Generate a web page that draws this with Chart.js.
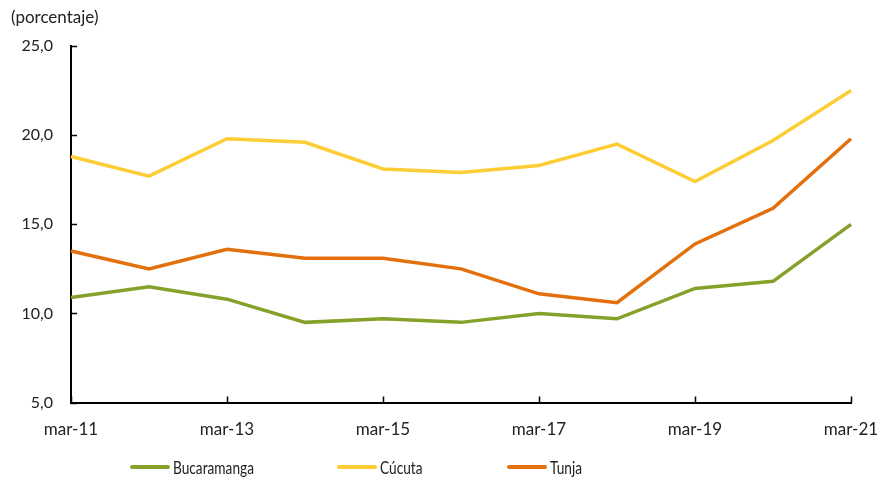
<!DOCTYPE html>
<html>
<head>
<meta charset="utf-8">
<script src="https://cdn.jsdelivr.net/npm/chart.js@4"></script>
<style>
  html, body { margin: 0; padding: 0; background: #fff; }
  #wrap { width: 883px; height: 479px; position: relative; }
  #title { position: absolute; left: 11px; top: 6px; font-family: Lato, 'Open Sans', sans-serif;
    font-size: 17px; color: #222; }
  .legend-item { position: absolute; top: 458px; height: 18px; display: flex; align-items: center;
    font-family: Lato, 'Open Sans', sans-serif; font-size: 18px; color: #222; white-space: nowrap; }
  .legend-item span.swatch { display: inline-block; width: 40px; height: 4px; border-radius: 2px; margin-right: 3px; }
  .legend-item span.txt { display: inline-block; transform: scaleX(0.76); transform-origin: left center; }
</style>
</head>
<body>
<div id="wrap">
  <canvas id="line-chart"></canvas>
  <div id="title">(porcentaje)</div>
  <div id="legend"></div>
</div>
<script>
// Datos (porcentaje)
const labels = ["mar-11", "mar-12", "mar-13", "mar-14", "mar-15", "mar-16", "mar-17", "mar-18", "mar-19", "mar-20", "mar-21"];
const bucaramanga = [10.9, 11.5, 10.8, 9.5, 9.7, 9.5, 10.0, 9.7, 11.4, 11.8, 15.0];
const cucuta = [18.8, 17.7, 19.8, 19.6, 18.1, 17.9, 18.3, 19.5, 17.4, 19.7, 22.5];
const tunja = [13.5, 12.5, 13.6, 13.1, 13.1, 12.5, 11.1, 10.6, 13.9, 15.9, 19.8];
const yTicks = [5, 10, 15, 20, 25];

const fontFamily = "Lato, 'Open Sans', sans-serif";

// small inward tick marks, like the original
const innerTicks = {
  id: "innerTicks",
  afterDraw(chart) {
    const ctx = chart.ctx;
    const x = chart.scales.x;
    const y = chart.scales.y;
    ctx.save();
    ctx.strokeStyle = "#000";
    ctx.lineWidth = 1.5;
    ctx.beginPath();
    yTicks.forEach((v) => {
      const py = Math.round(y.getPixelForValue(v)) + 0.5;
      ctx.moveTo(x.left, py);
      ctx.lineTo(x.left + 6, py);
    });
    labels.forEach((l, i) => {
      if (i % 2 === 0) {
        const px = Math.round(x.getPixelForValue(i)) + 0.5;
        ctx.moveTo(px, y.bottom);
        ctx.lineTo(px, y.bottom - 6);
      }
    });
    ctx.stroke();
    ctx.restore();
  }
};

const ctx = document.getElementById("line-chart").getContext("2d");

const chart = new Chart(ctx, {
  type: "line",
  data: {
    labels: labels,
    datasets: [
      { label: "Bucaramanga", data: bucaramanga, borderColor: "#86a12a", backgroundColor: "#86a12a" },
      { label: "Cúcuta", data: cucuta, borderColor: "#fdcd36", backgroundColor: "#fdcd36" },
      { label: "Tunja", data: tunja, borderColor: "#e3700d", backgroundColor: "#e3700d" }
    ]
  },
  options: {
    responsive: true,
    maintainAspectRatio: false,
    animation: false,
    elements: {
      line: { borderWidth: 3.5, tension: 0 },
      point: { radius: 0 }
    },
    layout: { padding: { left: 0, right: 0, top: 46, bottom: 22 } },
    plugins: {
      title: { display: false },
      legend: { display: false },
      tooltip: { enabled: false }
    },
    scales: {
      x: {
        offset: false,
        grid: { display: false, drawTicks: false },
        border: { color: "#000", width: 2 },
        afterFit: (axis) => { axis.paddingRight = 32; axis.paddingLeft = 0; },
        ticks: {
          color: "#222",
          autoSkip: false,
          maxRotation: 0,
          padding: 17,
          font: { family: fontFamily, size: 17 },
          callback: function (val, i) { return i % 2 === 0 ? labels[i] : ""; }
        }
      },
      y: {
        min: 5,
        max: 25,
        grid: { display: false, drawTicks: false },
        border: { color: "#000", width: 2 },
        afterBuildTicks: (axis) => { axis.ticks = yTicks.map((v) => ({ value: v })); },
        afterFit: (axis) => { axis.width = 71; },
        ticks: {
          color: "#222",
          padding: 18,
          font: { family: fontFamily, size: 16 },
          callback: (v) => v.toFixed(1).replace(".", ",")
        }
      }
    }
  },
  plugins: [innerTicks]
});

// HTML legend built from the chart datasets, spaced like the original
const legendX = [130, 337, 507];
const legendBox = document.getElementById("legend");
chart.data.datasets.forEach((ds, i) => {
  const item = document.createElement("div");
  item.className = "legend-item";
  item.style.left = legendX[i] + "px";
  const sw = document.createElement("span");
  sw.className = "swatch";
  sw.style.background = ds.borderColor;
  const txt = document.createElement("span");
  txt.className = "txt";
  txt.textContent = ds.label;
  item.appendChild(sw);
  item.appendChild(txt);
  legendBox.appendChild(item);
});
</script>
</body>
</html>
